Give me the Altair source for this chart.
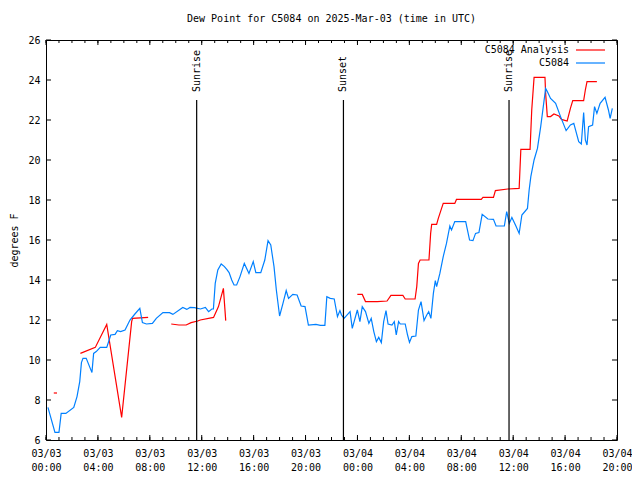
import altair as alt
import pandas as pd

# ---- data (hours since 03/03 00:00 UTC, dew point degrees F) ----
blue_h = [0.15, 0.69, 1.0, 1.17, 1.53, 2.14, 2.39, 2.6, 2.73, 2.85, 3.1, 3.41, 3.54, 3.67, 3.87,
          4.18, 4.68, 4.99, 5.32, 5.5, 5.75, 6.09, 6.47, 6.85, 7.23, 7.43, 7.74, 8.2, 8.5, 9.01,
          9.52, 9.78, 10.54, 10.85, 11.1, 11.44, 11.9, 12.28, 12.53, 12.78, 12.9, 13.04, 13.24,
          13.5, 13.75, 13.93, 14.11, 14.31, 14.49, 14.69, 14.95, 15.28, 15.64, 15.97, 16.17,
          16.55, 16.86, 17.11, 17.32, 17.57, 17.75, 18.0, 18.26, 18.51, 18.69, 19.02, 19.35,
          19.66, 19.96, 20.22, 20.8, 21.14, 21.49, 21.64, 21.9, 22.21, 22.46, 22.65, 22.77,
          22.97, 23.43, 23.6, 23.99, 24.19, 24.37, 24.62, 24.88, 25.06, 25.26, 25.46, 25.64,
          25.84, 26.02, 26.2, 26.36, 26.66, 26.84, 26.99, 27.17, 27.3, 27.68, 27.86, 28.01,
          28.19, 28.5, 28.7, 28.9, 29.13, 29.34, 29.49, 29.66, 29.85, 30.0, 30.1, 30.35, 30.61,
          30.86, 31.12, 31.25, 31.5, 32.34, 32.64, 32.9, 33.1, 33.36, 33.61, 34.05, 34.48,
          34.68, 35.32, 35.5, 35.7, 35.9, 36.21, 36.46, 36.67, 37.1, 37.23, 37.36, 37.61,
          37.87, 38.12, 38.5, 38.63, 38.88, 39.27, 39.65, 40.08, 40.41, 40.67, 41.05, 41.25,
          41.43, 41.56, 41.69, 41.81, 42.12, 42.27, 42.45, 42.7, 43.08, 43.34, 43.47, 43.64]
blue_v = [7.63, 6.38, 6.38, 7.33, 7.33, 7.63, 8.17, 8.92, 9.87, 10.08, 10.08, 9.58, 9.38, 10.33, 10.42,
          10.63, 10.63, 11.25, 11.28, 11.47, 11.42, 11.5, 12.0, 12.3, 12.58, 11.87, 11.8, 11.83, 12.08, 12.37,
          12.37, 12.28, 12.63, 12.53, 12.63, 12.62, 12.55, 12.63, 12.42, 12.55, 12.55, 13.83, 14.5,
          14.8, 14.67, 14.53, 14.37, 14.0, 13.75, 13.75, 14.17, 14.83, 14.33, 14.92, 14.37,
          14.37, 15.0, 15.97, 15.75, 14.67, 13.5, 12.2, 12.83, 13.47, 13.08, 13.28, 13.25,
          12.7, 12.67, 11.75, 11.78, 11.73, 11.73, 13.17, 13.08, 13.05, 12.17, 12.47, 12.25,
          12.08, 12.42, 11.58, 12.5, 11.92, 12.67, 12.42, 11.83, 12.08, 11.42, 10.92, 11.13,
          10.87, 11.92, 12.47, 11.8, 11.75, 11.92, 11.25, 11.92, 11.8, 11.8, 11.25, 10.88,
          11.17, 11.2, 12.5, 12.92, 11.97, 12.25, 12.42, 12.08, 13.33, 13.97, 13.67, 14.33, 15.17,
          15.83, 16.7, 16.5, 16.92, 16.92, 16.0, 15.97, 16.33, 16.37, 17.28, 17.05, 17.03,
          16.7, 16.7, 17.42, 16.83, 17.13, 16.7, 16.33, 17.25, 17.58, 18.5, 19.17, 20.0,
          20.58, 21.67, 23.58, 23.42, 23.08, 22.83, 22.17, 21.47, 21.75, 21.83, 20.92, 20.8,
          22.37, 21.0, 20.75, 21.67, 21.75, 22.67, 22.33, 22.83, 23.13, 22.5, 22.08, 22.58]

red_h = [0.6, 0.85,
         2.65, 3.8, 4.68, 5.83, 6.6, 6.67, 7.87,
         9.65, 10.24, 10.8, 11.18, 11.69, 11.89, 12.91, 13.29, 13.67, 13.85,
         23.99, 24.37, 24.62, 25.52, 26.28, 26.58, 27.5, 27.68, 28.44, 28.57, 28.7, 28.83,
         29.51, 29.64, 29.72, 30.1, 30.23, 30.4, 30.61, 31.5, 31.63, 33.54, 33.67, 34.48,
         34.63, 35.58, 36.46, 36.59, 37.3, 37.43, 37.61, 38.45, 38.5, 38.63, 38.88, 39.14,
         39.52, 39.72, 40.16, 40.41, 40.59, 41.43, 41.56, 41.69, 42.45]
red_v = [8.35, 8.35,
         10.33, 10.63, 11.78, 7.13, 11.92, 12.08, 12.13,
         11.8, 11.75, 11.75, 11.87, 11.95, 12.0, 12.13, 12.67, 13.58, 11.97,
         13.28, 13.28, 12.92, 12.92, 12.95, 13.23, 13.23, 13.05, 13.05, 13.67, 14.83, 15.0,
         15.0, 16.33, 16.78, 16.78, 17.08, 17.42, 17.83, 17.83, 18.03, 18.03, 18.13, 18.13,
         18.47, 18.55, 18.58, 20.53, 20.53, 22.5, 24.13, 24.13, 23.33, 22.17, 22.17, 22.3,
         22.2, 22.03, 21.95, 22.58, 22.97, 22.97, 23.5, 23.92, 23.92]
# analysis segments (gaps between them): segment starts at these hours
red_seg_starts = [0.0, 2.0, 9.0, 23.0]

event_h = [11.61, 22.92, 35.68]
event_label = ["Sunrise", "Sunset", "Sunrise"]
event_top = [23.0, 23.0, 23.0]
event_text_y = [23.4, 23.4, 23.4]

x_tick_labels = [0, 4, 8, 12, 16, 20, 24, 28, 32, 36, 40, 44]
x_minor = list(range(0, 45))
y_ticks = [6, 8, 10, 12, 14, 16, 18, 20, 22, 24, 26]

series_names = ["C5084 Analysis", "C5084"]
series_colors = ["#ff0000", "#0080ff"]

FONT = "DejaVu Sans Mono"
W, H = 571, 400

red_seg = [sum(1 for s in red_seg_starts if h >= s) for h in red_h]

blue_df = pd.DataFrame({"h": blue_h, "v": blue_v})
red_df = pd.DataFrame({"h": red_h, "v": red_v, "seg": red_seg})
ev_df = pd.DataFrame({"h": event_h, "label": event_label, "top": event_top, "ty": event_text_y})
xmin_df = pd.DataFrame({"h": x_minor})
xmaj_df = pd.DataFrame({"h": x_tick_labels})
yt_df = pd.DataFrame({"v": y_ticks})

xscale = alt.Scale(domain=[0, 44], nice=False, zero=False)
yscale = alt.Scale(domain=[6, 26], nice=False, zero=False)

xaxis = alt.Axis(
    values=x_tick_labels, ticks=False, domain=False, grid=False, title=None,
    labelExpr="[datum.value < 24 ? '03/03' : '03/04', (datum.value % 24 < 10 ? '0' : '') + (datum.value % 24) + ':00']",
    labelFont=FONT, labelFontSize=10, labelColor="black", labelPadding=8,
    labelLineHeight=14, labelOverlap=False, labelFlush=False,
)
yaxis = alt.Axis(
    values=y_ticks, ticks=False, domain=False, grid=False,
    labelFont=FONT, labelFontSize=10, labelColor="black", labelPadding=6,
    title="degrees F", titleFont=FONT, titleFontSize=10, titleFontWeight="normal",
    titleColor="black", titlePadding=8,
)


def X(field="h"):
    return alt.X(f"{field}:Q", scale=xscale, axis=xaxis, title=None)


def Y(field="v"):
    return alt.Y(f"{field}:Q", scale=yscale, axis=yaxis, title="degrees F")


red = alt.Chart(red_df).mark_line(color=series_colors[0], strokeWidth=1.2).encode(
    x=X(), y=Y(), detail="seg:N",
)
blue = alt.Chart(blue_df).mark_line(color=series_colors[1], strokeWidth=1.2).encode(
    x=X(), y=Y(),
)

ev_lines = alt.Chart(ev_df).mark_rule(color="black", strokeWidth=1.2).encode(
    x=X(), y=Y("top"), y2=alt.value(H),
)
ev_text = alt.Chart(ev_df).mark_text(
    angle=270, align="left", baseline="middle", font=FONT, fontSize=10, color="black"
).encode(
    x=X(), y=Y("ty"), text="label:N",
)


def xt(df, y1, y2):
    return alt.Chart(df).mark_rule(color="black", strokeWidth=1).encode(
        x=X(), y=alt.value(y1), y2=alt.value(y2))


def yt(df, x1, x2):
    return alt.Chart(df).mark_rule(color="black", strokeWidth=1).encode(
        y=Y(), x=alt.value(x1), x2=alt.value(x2))


ticks = [
    xt(xmin_df, H, H - 3), xt(xmaj_df, H, H - 5),
    xt(xmin_df, 0, 3), xt(xmaj_df, 0, 5),
    yt(yt_df, 0, 5), yt(yt_df, W - 5, W),
]

legend_layers = []
for i, (name, col) in enumerate(zip(series_names, series_colors)):
    yy = 10 + 13 * i
    legend_layers.append(
        alt.Chart(pd.DataFrame({"t": [name]})).mark_text(
            align="right", baseline="middle", font=FONT, fontSize=10, color="black"
        ).encode(text="t:N", x=alt.value(W - 48), y=alt.value(yy))
    )
    legend_layers.append(
        alt.Chart(pd.DataFrame({"t": [name]})).mark_rule(color=col, strokeWidth=1.2).encode(
            x=alt.value(W - 41), x2=alt.value(W - 12), y=alt.value(yy))
    )

chart = alt.layer(red, blue, ev_lines, ev_text, *ticks, *legend_layers).properties(
    width=W, height=H,
    title=alt.TitleParams("Dew Point for C5084 on 2025-Mar-03 (time in UTC)",
                          font=FONT, fontSize=10, fontWeight="normal", color="black",
                          anchor="middle", offset=11),
    autosize=alt.AutoSizeParams(type="none"),
    padding={"left": 38, "top": 32, "right": 15, "bottom": 34},
    background="white",
).configure_view(stroke="black", strokeWidth=1)

chart.save("out.html", embed_options={"renderer": "svg", "actions": False})
